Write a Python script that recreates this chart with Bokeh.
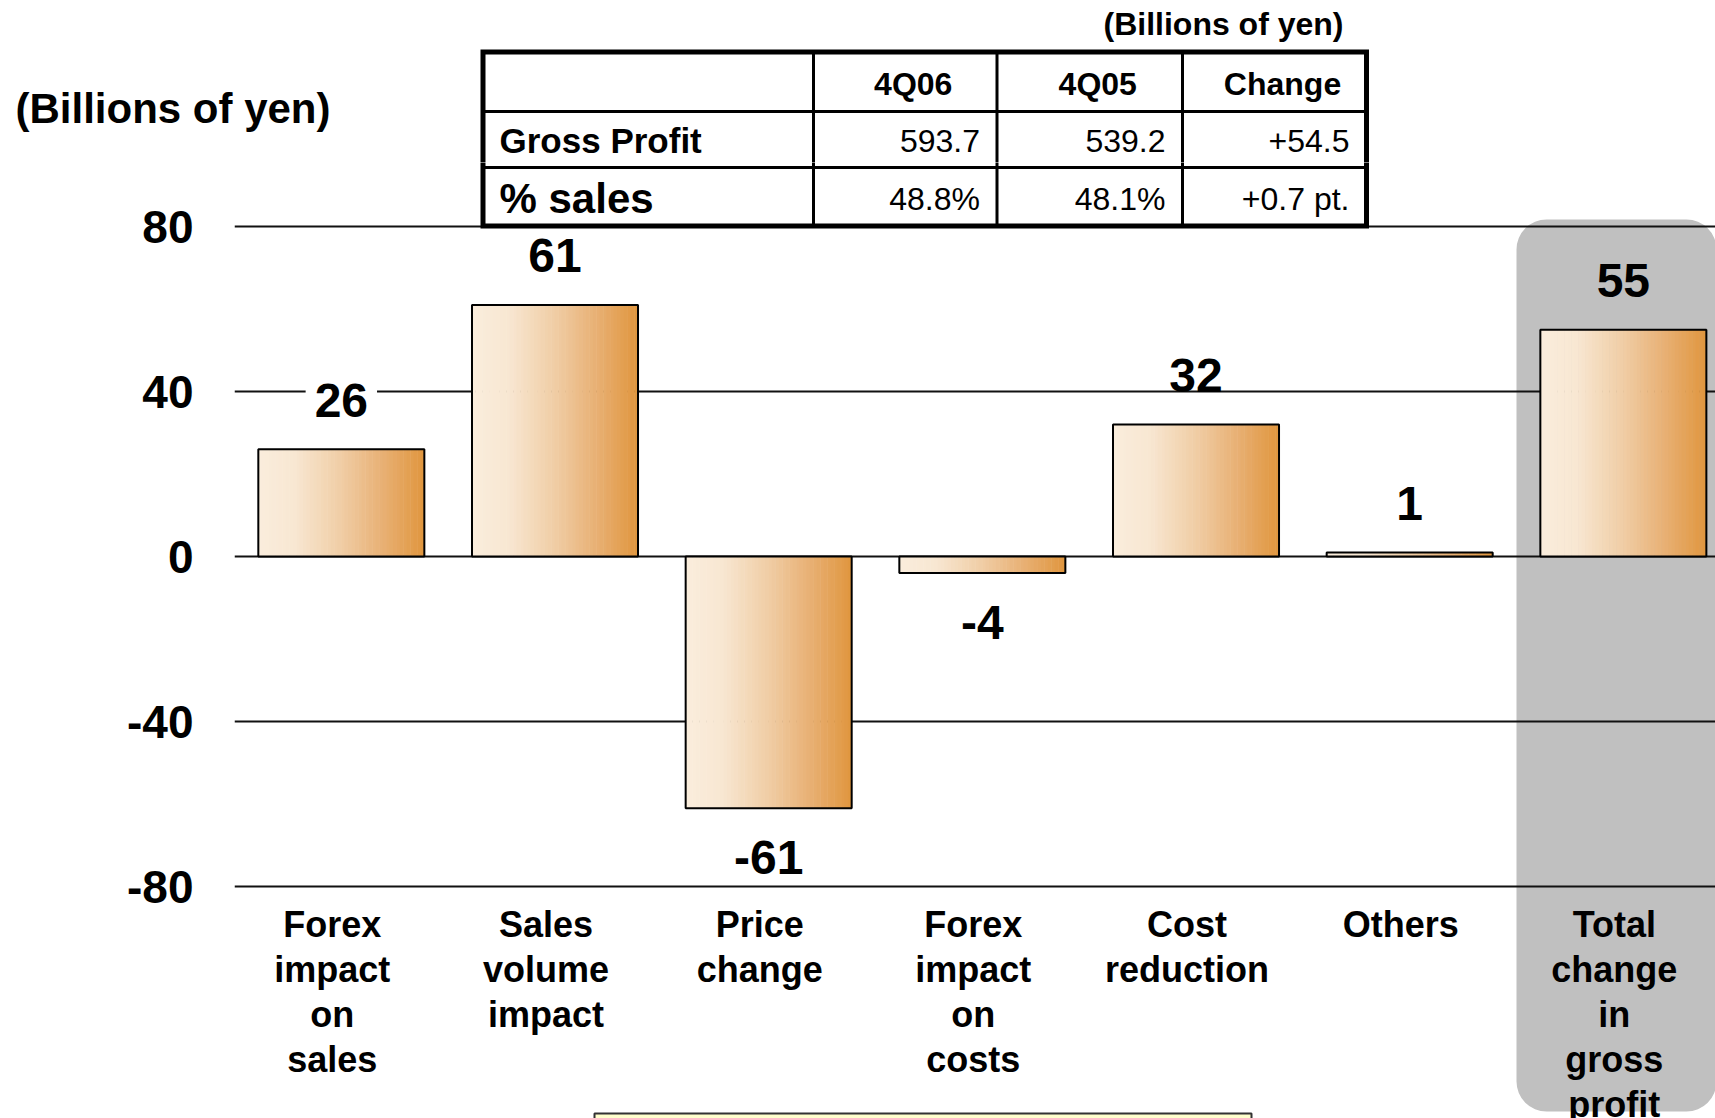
from bokeh.plotting import figure
from bokeh.layouts import column
from bokeh.models import Range1d, FixedTicker, ColumnDataSource
from bokeh.core.properties import value
from bokeh.embed import file_html
from bokeh.resources import INLINE

# ---------------- data ----------------
categories = [
    "Forex\nimpact\non\nsales",
    "Sales\nvolume\nimpact",
    "Price\nchange",
    "Forex\nimpact\non\ncosts",
    "Cost\nreduction",
    "Others",
    "Total\nchange\nin\ngross\nprofit",
]
values = [26, 61, -61, -4, 32, 1, 55]
value_labels = ["26", "61", "-61", "-4", "32", "1", "55"]
y_ticks = [-80, -40, 0, 40, 80]
y_tick_labels = ["-80", "-40", "0", "40", "80"]
unit_label = "(Billions of yen)"
table_columns = ["4Q06", "4Q05", "Change"]
table_rows = ["Gross Profit", "% sales"]
gross_profit = ["593.7", "539.2", "+54.5"]
pct_sales = ["48.8%", "48.1%", "+0.7 pt."]
table_values = [gross_profit, pct_sales]

# ---------------- layout (page pixels) ----------------
FONT = "Liberation Sans"
W, H = 1715, 1118
SPLIT = 162               # boundary between header strip and main chart
FRAME_LEFT = 234          # left edge of main plot frame
STEP = 213.67             # px per category
PX_PER_UNIT = 4.125       # px per billion yen
BAR_W = 0.777


def dx(px):
    return (px - FRAME_LEFT) / STEP


def dy(py):
    return 80 - (py - 226) / PX_PER_UNIT


common_fig = dict(output_backend="svg", toolbar_location=None,
                  x_axis_location=None, y_axis_location=None,
                  min_border_right=0, min_border_top=0, min_border_bottom=0,
                  background_fill_color="white", border_fill_color="white")

top = figure(width=W, height=SPLIT, x_range=Range1d(dx(0), dx(W)),
             y_range=Range1d(dy(SPLIT), dy(0)), min_border_left=0, **common_fig)
common_fig["y_axis_location"] = "left"
p = figure(width=W, height=H - SPLIT, x_range=Range1d(0, dx(W)),
           y_range=Range1d(dy(H), dy(SPLIT)), min_border_left=FRAME_LEFT, **common_fig)
for f in (top, p):
    f.outline_line_color = None
    f.grid.visible = False
    f.frame_align = False

p.ygrid.visible = True
p.ygrid.ticker = FixedTicker(ticks=y_ticks)
p.ygrid.grid_line_color = "#111111"
p.ygrid.grid_line_width = 2

ax = p.yaxis[0]
ax.ticker = FixedTicker(ticks=y_ticks)
ax.major_label_overrides = {t: s for t, s in zip(y_ticks, y_tick_labels)}
ax.axis_line_color = None
ax.major_tick_line_color = None
ax.minor_tick_line_color = None
ax.major_tick_out = 0
ax.major_tick_in = 0
ax.major_label_standoff = 41
ax.major_label_text_font = FONT
ax.major_label_text_font_style = "bold"
ax.major_label_text_font_size = "46px"
ax.major_label_text_color = "black"

# grey highlight behind total column
p.quad(left=[dx(1516)], right=[dx(1716)], top=[dy(219)], bottom=[dy(1111)],
       fill_color="#C0C0C0", line_color=None, border_radius=30, level="image")

# light yellow note box peeking in at the bottom edge
p.quad(left=[dx(594)], right=[dx(1251)], top=[dy(1113)], bottom=[dy(1160)],
       fill_color="#FFFFCC", line_color="#333333", line_width=2)

# ---------------- gradient bars ----------------
stops = [(0.0, (250, 237, 220)), (0.22, (248, 231, 210)), (0.5, (240, 205, 165)),
         (0.75, (232, 176, 116)), (1.0, (224, 150, 62))]


def grad(t):
    for (t0, c0), (t1, c1) in zip(stops[:-1], stops[1:]):
        if t <= t1:
            f = (t - t0) / (t1 - t0)
            return "#%02x%02x%02x" % tuple(int(round(a + (b - a) * f)) for a, b in zip(c0, c1))
    return "#%02x%02x%02x" % stops[-1][1]


N = 48
sx, sw, st, sb, sc = [], [], [], [], []
xs = [i + 0.5 for i in range(len(categories))]
for c, v in zip(xs, values):
    left = c - BAR_W / 2
    for j in range(N):
        sx.append(left + (j + 0.5) * BAR_W / N)
        sw.append(BAR_W / N * 1.15)
        st.append(max(v, 0))
        sb.append(min(v, 0))
        sc.append(grad((j + 0.5) / N))
p.vbar(x="x", width="w", top="top", bottom="bottom", fill_color="color",
       line_color=None, source=ColumnDataSource(dict(x=sx, w=sw, top=st, bottom=sb, color=sc)))
p.vbar(x=xs, width=BAR_W, top=[max(v, 0) for v in values],
       bottom=[min(v, 0) for v in values], fill_color=None,
       line_color="black", line_width=2)

# ---------------- value labels ----------------
OFF = 49 / PX_PER_UNIT
ly = [v + OFF if v >= 0 else v - OFF for v in values]
bg_idx = [i for i, y in enumerate(ly) if min(abs(y - t) for t in y_ticks) < 3]
plain_idx = [i for i in range(len(values)) if i not in bg_idx]
vl = dict(text_font=value(FONT), text_font_style="bold", text_font_size="48px",
          text_align="center", text_baseline="middle", text_color="black")
p.text(x=[xs[i] for i in plain_idx], y=[ly[i] for i in plain_idx],
       text=[value_labels[i] for i in plain_idx], **vl)
if bg_idx:
    p.text(x=[xs[i] for i in bg_idx], y=[ly[i] for i in bg_idx],
           text=[value_labels[i] for i in bg_idx],
           background_fill_color="white", padding=9, **vl)

# ---------------- category labels ----------------
cx, cy, ct = [], [], []
for c, cat in zip(xs, categories):
    for k, line in enumerate(cat.split("\n")):
        cx.append(c)
        cy.append(dy(924 + k * 45))
        ct.append(line)
p.text(x=cx, y=cy, text=ct, x_offset=-9, text_font=value(FONT), text_font_style="bold",
       text_font_size="36px", text_align="center", text_baseline="alphabetic",
       text_color="black")

# ---------------- table (drawn across both strips) ----------------
T_L, T_R, T_T, T_B = 482.5, 1366, 51.5, 225.5
col_edges = [813, 996.5, 1182, 1366]
row_edges = [111, 167]
for f in (top, p):
    f.quad(left=[dx(T_L)], right=[dx(T_R)], top=[dy(T_T)], bottom=[dy(T_B)],
           fill_color="white", line_color="black", line_width=5, line_join="miter")
    f.segment(x0=[dx(c) for c in col_edges[:-1]], y0=[dy(T_T)] * 3,
              x1=[dx(c) for c in col_edges[:-1]], y1=[dy(T_B)] * 3,
              line_color="black", line_width=3)
    f.segment(x0=[dx(T_L)] * 2, y0=[dy(r) for r in row_edges],
              x1=[dx(T_R)] * 2, y1=[dy(r) for r in row_edges],
              line_color="black", line_width=3)

top.text(x=[dx((a + b) / 2 + 8) for a, b in zip(col_edges[:-1], col_edges[1:])],
         y=[dy(83)] * 3, text=table_columns, text_font=value(FONT), text_font_style="bold",
         text_font_size="32px", text_align="center", text_baseline="middle", text_color="black")

row_y = [140, 198]
row_label_size = ["35px", "42px"]
for r, name in enumerate(table_rows):
    f = top if row_y[r] < SPLIT else p
    f.text(x=[dx(499)], y=[dy(row_y[r])], text=[name], text_font=value(FONT),
           text_font_style="bold", text_font_size=row_label_size[r], text_align="left",
           text_baseline="middle", text_color="black")
    f.text(x=[dx(e - 17) for e in col_edges[1:]], y=[dy(row_y[r])] * 3,
           text=table_values[r], text_font=value(FONT), text_font_style="normal",
           text_font_size="32px", text_align="right", text_baseline="middle",
           text_color="black")

top.text(x=[dx(1343)], y=[dy(23)], text=[unit_label], text_font=value(FONT),
         text_font_style="bold", text_font_size="32px", text_align="right",
         text_baseline="middle", text_color="black")
top.text(x=[dx(15)], y=[dy(108)], text=[unit_label], text_font=value(FONT),
         text_font_style="bold", text_font_size="42px", text_align="left",
         text_baseline="middle", text_color="black")

layout = column(top, p, spacing=0)
open("out.html", "w").write(file_html(layout, INLINE))
